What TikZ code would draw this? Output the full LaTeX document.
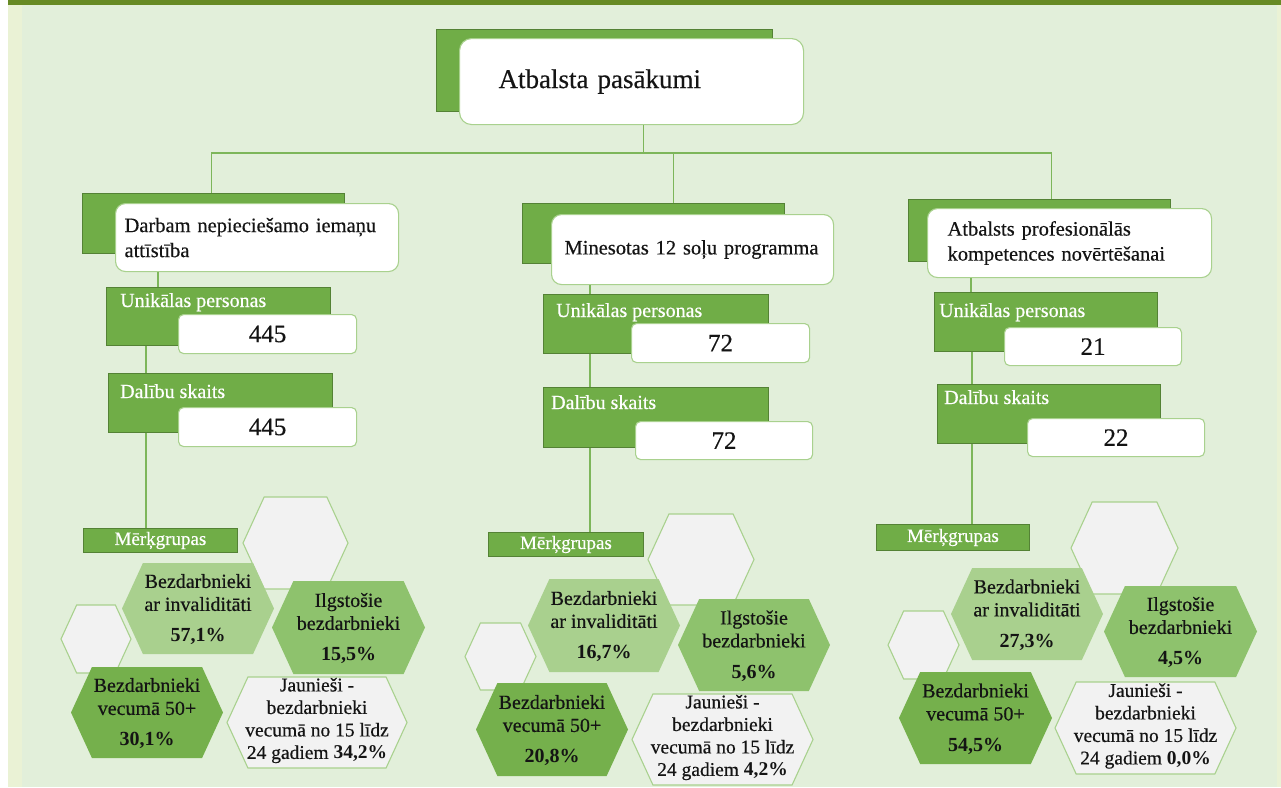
\documentclass[tikz,border=0pt]{standalone}
\usepackage{fontspec}
\setmainfont{Liberation Serif}
\newfontfamily\tnr{Liberation Serif}[UprightFeatures={FakeBold=0.45}]
\usetikzlibrary{calc}
\definecolor{bgmain}{HTML}{E2EFDA}
\definecolor{bgstrip}{HTML}{EAF2D5}
\definecolor{topbar}{HTML}{678A24}
\definecolor{boxg}{HTML}{70AD47}
\definecolor{boxgd}{HTML}{548235}
\definecolor{wline}{HTML}{A9D18E}
\definecolor{lineg}{HTML}{7DB65A}
\definecolor{hexw}{HTML}{F2F2F2}
\definecolor{hexinv}{HTML}{A9D08E}
\definecolor{hexilg}{HTML}{8EC26D}
\definecolor{hexvec}{HTML}{75B04C}
\definecolor{txt}{HTML}{141414}
\newcommand{\myhex}[6]{%
  \pgfmathsetmacro\myhexin{0.23*(#5-#3)}%
  \path[#6] (#2,{(#3+#5)/2}) -- ({#2+\myhexin},#3) -- ({#4-\myhexin},#3) -- (#4,{(#3+#5)/2}) -- ({#4-\myhexin},#5) -- ({#2+\myhexin},#5) -- cycle;%
  \coordinate (#1) at ({(#2+#4)/2},{(#3+#5)/2});%
}
\tikzset{
  conn/.style={draw=lineg, line width=1.1pt},
  gbox/.style={fill=boxg, draw=boxgd, line width=0.9pt, anchor=north west, inner sep=0pt},
  wbox/.style={fill=white, draw=wline, line width=1.1pt, rounded corners=10pt, anchor=north west, text=txt},
  titlefont/.style={font=\tnr\fontsize{20.5}{25}\selectfont},
  numbox/.style={wbox, rounded corners=5pt, inner sep=0pt, minimum width=178pt, minimum height=39pt, font=\tnr\fontsize{25}{28}\selectfont},
  glabel/.style={anchor=base west, inner sep=0pt, text=white, font=\tnr\fontsize{20}{24}\selectfont},
  mbox/.style={fill=boxg, draw=boxgd, line width=0.9pt, anchor=north west, inner sep=0pt, minimum width=154pt, minimum height=24pt, text=white, font=\tnr\fontsize{19}{22}\selectfont},
  hexwhite/.style={fill=hexw, draw=wline, line width=1.1pt},
  hexinvs/.style={fill=hexinv},
  hexilgs/.style={fill=hexilg},
  hexvecs/.style={fill=hexvec},
  hexjau/.style={fill=hexw, draw=wline, line width=1.1pt},
  hextext/.style={align=center, inner sep=0pt, text=txt, font=\tnr\fontsize{20}{23}\selectfont},
  jautext/.style={hextext, font=\tnr\fontsize{19.5}{22.5}\selectfont},
}
\begin{document}
\begin{tikzpicture}[x=1pt, y=-1pt]
\useasboundingbox (0,0) rectangle (1281,787);
% background
\fill[white] (0,0) rectangle (1281,787);
\fill[bgstrip] (8,0) rectangle (1281,787);
\fill[bgmain] (22,5) rectangle (1277,787);
\fill[topbar] (8,0) rectangle (1281,5);

% top
\node[gbox, minimum width=336pt, minimum height=82pt] (tg) at (436,29) {};
\node[wbox, rounded corners=12pt, minimum width=344pt, minimum height=86pt, text width=266pt, inner xsep=39pt, align=left, font=\tnr\fontsize{27}{30}\selectfont] (top) at (459,38) {Atbalsta pasākumi};

% column boxes
\node[gbox, minimum width=262pt, minimum height=60pt] (g1) at (82,193) {};
\node[wbox, titlefont, minimum width=283pt, minimum height=68pt, text width=265pt, inner xsep=9pt, align=left] (w1) at (115,203) {Darbam nepieciešamo iemaņu\\attīstība};
\node[gbox, minimum width=262pt, minimum height=60pt] (g2) at (522,203) {};
\node[wbox, titlefont, minimum width=282pt, minimum height=70pt, text width=256pt, inner xsep=13pt, align=left] (w2) at (551,214) {Minesotas 12 soļu programma};
\node[gbox, minimum width=262pt, minimum height=62pt] (g3) at (908,199) {};
\node[wbox, titlefont, minimum width=284pt, minimum height=69pt, text width=244pt, inner xsep=20pt, align=left] (w3) at (927,208) {Atbalsts profesionālās\\kompetences novērtēšanai};

% bus connectors
\coordinate (hub) at (643,153);
\draw[conn] ([xshift=12pt]top.south) -- ([xshift=12pt]top.south |- hub);
\draw[conn] ([xshift=-2pt]g1.north) |- (hub);
\draw[conn] (hub) -| ([xshift=20pt]g2.north);
\draw[conn] (hub) -| ([xshift=12pt]g3.north);

% column 1 stats
\node[gbox, minimum width=224pt, minimum height=58pt] (u1) at (106,287) {};
\node[glabel] (lu1) at (120,307) {Unikālas personas};
\node[numbox] (nu1) at (178,314) {445};
\node[gbox, minimum width=224pt, minimum height=59pt] (d1) at (108,373) {};
\node[glabel] (ld1) at (120,398) {Dalību skaits};
\node[numbox] (nd1) at (178,407) {445};
\node[mbox] (m1) at (83,528) {Mērķgrupas};
\draw[conn] ([xshift=43pt]w1.south west) -- ([xshift=43pt]w1.south west |- u1.north);
\draw[conn] ([xshift=40pt]u1.south west) -- ([xshift=40pt]u1.south west |- d1.north);
\draw[conn] ([xshift=38pt]d1.south west) -- ([xshift=38pt]d1.south west |- m1.north);

% column 2 stats
\node[gbox, minimum width=225pt, minimum height=59pt] (u2) at (543,294) {};
\node[glabel] (lu2) at (556,317) {Unikālas personas};
\node[numbox] (nu2) at (631,323) {72};
\node[gbox, minimum width=225pt, minimum height=60pt] (d2) at (543,387) {};
\node[glabel] (ld2) at (551,409) {Dalību skaits};
\node[numbox, minimum width=177pt, minimum height=38pt] (nd2) at (635,421) {72};
\node[mbox, minimum width=155pt] (m2) at (488,532) {Mērķgrupas};
\draw[conn] ([xshift=39pt]w2.south west) -- ([xshift=39pt]w2.south west |- u2.north);
\draw[conn] ([xshift=47pt]u2.south west) -- ([xshift=47pt]u2.south west |- d2.north);
\draw[conn] ([xshift=47pt]d2.south west) -- ([xshift=47pt]d2.south west |- m2.north);

% column 3 stats
\node[gbox, minimum width=223pt, minimum height=59pt] (u3) at (934,292) {};
\node[glabel] (lu3) at (939,317) {Unikālas personas};
\node[numbox, minimum width=177pt, minimum height=38pt] (nu3) at (1004,327) {21};
\node[gbox, minimum width=223pt, minimum height=59pt] (d3) at (937,384) {};
\node[glabel] (ld3) at (944,404) {Dalību skaits};
\node[numbox, minimum width=177pt, minimum height=38pt] (nd3) at (1027,418) {22};
\node[mbox, minimum width=153pt, minimum height=26pt] (m3) at (876,524) {Mērķgrupas};
\draw[conn] ([xshift=44pt]w3.south west) -- ([xshift=44pt]w3.south west |- u3.north);
\draw[conn] ([xshift=38pt]u3.south west) -- ([xshift=38pt]u3.south west |- d3.north);
\draw[conn] ([xshift=35pt]d3.south west) -- ([xshift=35pt]d3.south west |- m3.north);

% hexagons column 1
\myhex{A1}{243}{497}{348}{589}{hexwhite}
\myhex{S1}{61}{605}{131}{673}{hexwhite}
\myhex{B1}{122}{563}{274}{654}{hexinvs}
\myhex{I1}{272}{581}{425}{674}{hexilgs}
\myhex{V1}{71}{667}{223}{758}{hexvecs}
\myhex{J1}{227}{677}{407}{768}{hexjau}
\node[hextext] (tB1) at ([yshift=-1pt]B1) {Bezdarbnieki\\ar invaliditāti\\[8pt]\textbf{57,1\%}};
\node[hextext] (tI1) at ([yshift=-1pt]I1) {Ilgstošie\\bezdarbnieki\\[8pt]\textbf{15,5\%}};
\node[hextext] (tV1) at ([yshift=-1pt]V1) {Bezdarbnieki\\vecumā 50+\\[8pt]\textbf{30,1\%}};
\node[jautext] (tJ1) at ([yshift=2pt]J1) {Jaunieši -\\bezdarbnieki\\vecumā no 15 līdz\\24 gadiem \textbf{34,2\%}};

% hexagons column 2
\myhex{A2}{648}{514}{754}{605}{hexwhite}
\myhex{S2}{465}{623}{536}{690}{hexwhite}
\myhex{B2}{528}{579}{680}{672}{hexinvs}
\myhex{I2}{678}{599}{830}{691}{hexilgs}
\myhex{V2}{476}{683}{628}{776}{hexvecs}
\myhex{J2}{632}{694}{813}{785}{hexjau}
\node[hextext] (tB2) at ([yshift=-1pt]B2) {Bezdarbnieki\\ar invaliditāti\\[8pt]\textbf{16,7\%}};
\node[hextext] (tI2) at ([yshift=-1pt]I2) {Ilgstošie\\bezdarbnieki\\[8pt]\textbf{5,6\%}};
\node[hextext] (tV2) at ([yshift=-1pt]V2) {Bezdarbnieki\\vecumā 50+\\[8pt]\textbf{20,8\%}};
\node[jautext] (tJ2) at ([yshift=2pt]J2) {Jaunieši -\\bezdarbnieki\\vecumā no 15 līdz\\24 gadiem \textbf{4,2\%}};

% hexagons column 3
\myhex{A3}{1071}{502}{1178}{594}{hexwhite}
\myhex{S3}{888}{611}{959}{679}{hexwhite}
\myhex{B3}{951}{568}{1103}{660}{hexinvs}
\myhex{I3}{1104}{586}{1257}{677}{hexilgs}
\myhex{V3}{899}{672}{1052}{764}{hexvecs}
\myhex{J3}{1055}{682}{1236}{774}{hexjau}
\node[hextext] (tB3) at ([yshift=-1pt]B3) {Bezdarbnieki\\ar invaliditāti\\[8pt]\textbf{27,3\%}};
\node[hextext] (tI3) at ([yshift=-1pt]I3) {Ilgstošie\\bezdarbnieki\\[8pt]\textbf{4,5\%}};
\node[hextext] (tV3) at ([yshift=-1pt]V3) {Bezdarbnieki\\vecumā 50+\\[8pt]\textbf{54,5\%}};
\node[jautext] (tJ3) at ([yshift=2pt]J3) {Jaunieši -\\bezdarbnieki\\vecumā no 15 līdz\\24 gadiem \textbf{0,0\%}};
\end{tikzpicture}
\end{document}
